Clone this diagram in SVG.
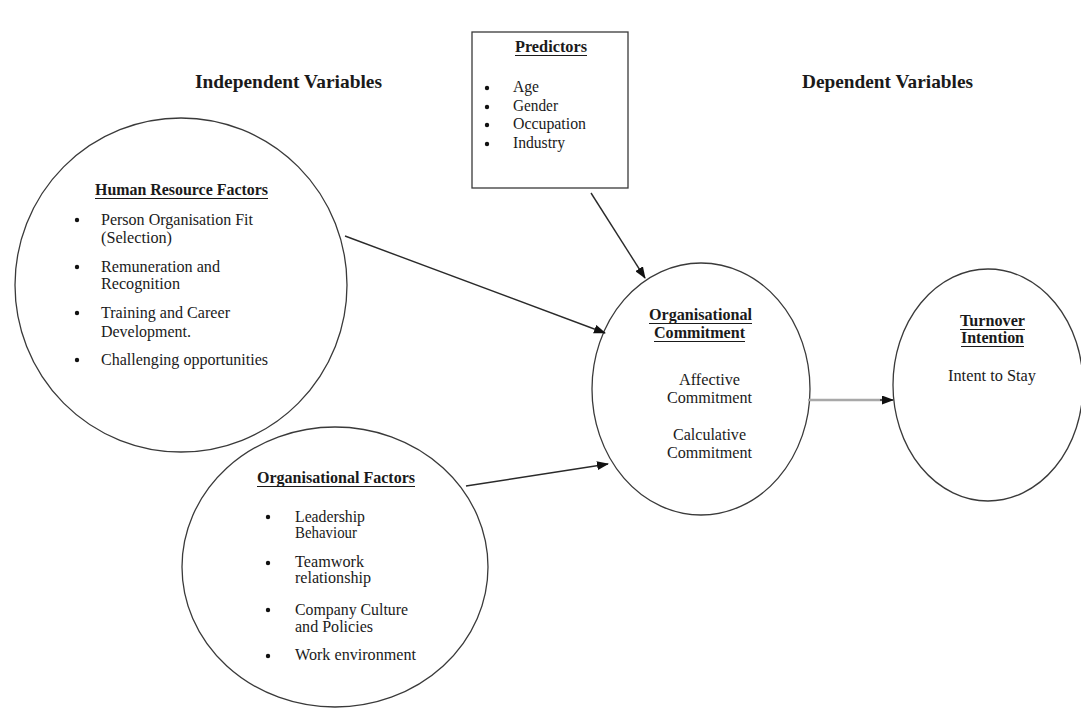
<svg xmlns="http://www.w3.org/2000/svg" width="1081" height="708" viewBox="0 0 1081 708">
  <style>
    .shape { fill: none; stroke: #3a3a3a; stroke-width: 1.3; }
    .t { font-family: "Liberation Serif", "Times New Roman", serif; font-size: 16px; fill: #1a1a1a; }
    .b { font-weight: bold; }
    .h { font-family: "Liberation Serif", "Times New Roman", serif; font-size: 19px; font-weight: bold; fill: #1a1a1a; }
    .ul { stroke: #1a1a1a; stroke-width: 1.2; }
    .dot { fill: #111; }
    .conn { stroke: #2a2a2a; stroke-width: 1.4; fill: none; }
    .conn-gray { stroke: #a8a8a8; stroke-width: 2.6; fill: none; }
  </style>
  <defs>
    <marker id="arr" markerWidth="12" markerHeight="9" refX="11" refY="4.5" orient="auto" markerUnits="userSpaceOnUse">
      <path d="M0,0 L12,4.5 L0,9 Z" fill="#111"/>
    </marker>
  </defs>
  <rect x="0" y="0" width="1081" height="708" fill="#ffffff"/>

  <g id="headings">
    <text class="h" x="195" y="88" textLength="187" lengthAdjust="spacingAndGlyphs">Independent Variables</text>
    <text class="h" x="802" y="88" textLength="171" lengthAdjust="spacingAndGlyphs">Dependent Variables</text>
  </g>

  <g id="predictors">
    <rect class="shape" x="472" y="32" width="156" height="156"/>
    <text class="t b" x="515" y="52" textLength="72" lengthAdjust="spacingAndGlyphs">Predictors</text>
    <line class="ul" x1="515" y1="55.5" x2="587" y2="55.5"/>
    <circle class="dot" cx="487" cy="88" r="2.2"/>
    <circle class="dot" cx="487" cy="107" r="2.2"/>
    <circle class="dot" cx="487" cy="125" r="2.2"/>
    <circle class="dot" cx="487" cy="144" r="2.2"/>
    <text class="t" x="513" y="92" textLength="26" lengthAdjust="spacingAndGlyphs">Age</text>
    <text class="t" x="513" y="111" textLength="45" lengthAdjust="spacingAndGlyphs">Gender</text>
    <text class="t" x="513" y="129" textLength="73" lengthAdjust="spacingAndGlyphs">Occupation</text>
    <text class="t" x="513" y="148" textLength="52" lengthAdjust="spacingAndGlyphs">Industry</text>
  </g>

  <g id="hr-factors">
    <ellipse class="shape" cx="181" cy="285" rx="166" ry="167"/>
    <text class="t b" x="95" y="195" textLength="173" lengthAdjust="spacingAndGlyphs">Human Resource Factors</text>
    <line class="ul" x1="95" y1="198.5" x2="268" y2="198.5"/>
    <circle class="dot" cx="77" cy="220" r="2.2"/>
    <circle class="dot" cx="77" cy="267" r="2.2"/>
    <circle class="dot" cx="77" cy="313" r="2.2"/>
    <circle class="dot" cx="77" cy="360" r="2.2"/>
    <text class="t" x="101" y="225" textLength="152" lengthAdjust="spacingAndGlyphs">Person Organisation Fit</text>
    <text class="t" x="101" y="243" textLength="71" lengthAdjust="spacingAndGlyphs">(Selection)</text>
    <text class="t" x="101" y="272" textLength="119" lengthAdjust="spacingAndGlyphs">Remuneration and</text>
    <text class="t" x="101" y="289" textLength="79" lengthAdjust="spacingAndGlyphs">Recognition</text>
    <text class="t" x="101" y="318" textLength="129" lengthAdjust="spacingAndGlyphs">Training and Career</text>
    <text class="t" x="101" y="337" textLength="90" lengthAdjust="spacingAndGlyphs">Development.</text>
    <text class="t" x="101" y="365" textLength="167" lengthAdjust="spacingAndGlyphs">Challenging opportunities</text>
  </g>

  <g id="org-factors">
    <ellipse class="shape" cx="335" cy="567" rx="153" ry="140"/>
    <text class="t b" x="257" y="483" textLength="158" lengthAdjust="spacingAndGlyphs">Organisational Factors</text>
    <line class="ul" x1="257" y1="486.5" x2="415" y2="486.5"/>
    <circle class="dot" cx="268" cy="517" r="2.2"/>
    <circle class="dot" cx="268" cy="563" r="2.2"/>
    <circle class="dot" cx="268" cy="610" r="2.2"/>
    <circle class="dot" cx="268" cy="656" r="2.2"/>
    <text class="t" x="295" y="522" textLength="70" lengthAdjust="spacingAndGlyphs">Leadership</text>
    <text class="t" x="295" y="538" textLength="62" lengthAdjust="spacingAndGlyphs">Behaviour</text>
    <text class="t" x="295" y="567" textLength="69" lengthAdjust="spacingAndGlyphs">Teamwork</text>
    <text class="t" x="295" y="583" textLength="76" lengthAdjust="spacingAndGlyphs">relationship</text>
    <text class="t" x="295" y="615" textLength="113" lengthAdjust="spacingAndGlyphs">Company Culture</text>
    <text class="t" x="295" y="632" textLength="78" lengthAdjust="spacingAndGlyphs">and Policies</text>
    <text class="t" x="295" y="660" textLength="121" lengthAdjust="spacingAndGlyphs">Work environment</text>
  </g>

  <g id="org-commitment">
    <ellipse class="shape" cx="701" cy="389" rx="109" ry="126"/>
    <text class="t b" x="649" y="320" textLength="103" lengthAdjust="spacingAndGlyphs">Organisational</text>
    <line class="ul" x1="649" y1="323.5" x2="752" y2="323.5"/>
    <text class="t b" x="654" y="338" textLength="91" lengthAdjust="spacingAndGlyphs">Commitment</text>
    <line class="ul" x1="654" y1="341.5" x2="745" y2="341.5"/>
    <text class="t" x="679" y="385" textLength="61" lengthAdjust="spacingAndGlyphs">Affective</text>
    <text class="t" x="667" y="403" textLength="85" lengthAdjust="spacingAndGlyphs">Commitment</text>
    <text class="t" x="673" y="440" textLength="73" lengthAdjust="spacingAndGlyphs">Calculative</text>
    <text class="t" x="667" y="458" textLength="85" lengthAdjust="spacingAndGlyphs">Commitment</text>
  </g>

  <g id="turnover">
    <ellipse class="shape" cx="988" cy="385" rx="95" ry="116"/>
    <text class="t b" x="960" y="326" textLength="65" lengthAdjust="spacingAndGlyphs">Turnover</text>
    <line class="ul" x1="960" y1="329.5" x2="1025" y2="329.5"/>
    <text class="t b" x="961" y="343" textLength="63" lengthAdjust="spacingAndGlyphs">Intention</text>
    <line class="ul" x1="961" y1="346.5" x2="1024" y2="346.5"/>
    <text class="t" x="948" y="381" textLength="88" lengthAdjust="spacingAndGlyphs">Intent to Stay</text>
  </g>

  <g id="connectors">
    <line class="conn" x1="591" y1="193" x2="645" y2="278" marker-end="url(#arr)"/>
    <line class="conn" x1="345" y1="236" x2="605" y2="333" marker-end="url(#arr)"/>
    <line class="conn" x1="466" y1="486" x2="608" y2="464" marker-end="url(#arr)"/>
    <line class="conn-gray" x1="808" y1="400" x2="883" y2="400"/>
    <line class="conn" x1="880" y1="400" x2="893" y2="400" marker-end="url(#arr)"/>
  </g>
</svg>
